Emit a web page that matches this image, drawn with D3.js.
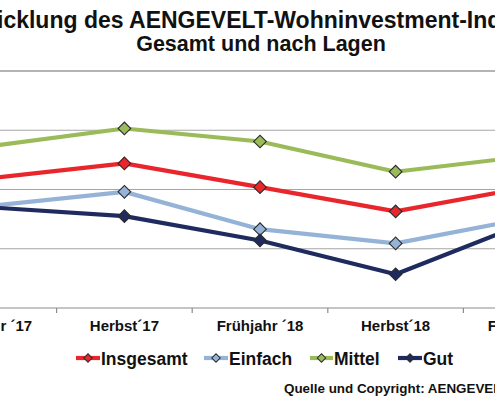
<!DOCTYPE html>
<html><head><meta charset="utf-8">
<script src="https://cdn.jsdelivr.net/npm/d3@7"></script>
<style>html,body{margin:0;padding:0;background:#fff;overflow:hidden}svg{display:block;font-family:Arial,"Liberation Sans",sans-serif}</style>
</head><body>
<script>
const categories = ["Frühjahr ´17", "Herbst´17", "Frühjahr ´18", "Herbst´18", "Frühjahr ´19"];
const insgesamt = [101.9, 104.4, 100.4, 96.3, 100.5];
const einfach   = [97.2, 99.6, 93.3, 90.9, 95.3];
const mittel    = [107.3, 110.3, 108.1, 103.0, 105.7];
const gut       = [97.0, 95.5, 91.4, 85.7, 94.7];
const seriesNames = ["Insgesamt", "Einfach", "Mittel", "Gut"];
const seriesColors = ["#e8262c", "#95b3d7", "#9bbb59", "#1f2b5e"];
const yTicks = [80, 90, 100, 110, 120];
const titleLines = ["Entwicklung des AENGEVELT-Wohninvestment-Index", "Gesamt und nach Lagen"];
const sourceText = "Quelle und Copyright: AENGEVELT-RESEARCH";

const W = 495, H = 400;
const svg = d3.select("body").append("svg").attr("width", W).attr("height", H);

const x = d3.scaleBand().domain(categories).range([-79, 599]);
const y = d3.scaleLinear().domain([80, 120]).range([308, 71]);

// gridlines
svg.append("g").selectAll("line").data(yTicks).join("line")
  .attr("x1", -79).attr("x2", 599)
  .attr("y1", d => y(d)).attr("y2", d => y(d))
  .attr("stroke", d => d === 120 ? "#6b6b6b" : (d === 80 ? "#8c8c8c" : "#a6a6a6"))
  .attr("stroke-width", 1.2);

// x axis
const xAxis = svg.append("g").attr("transform", "translate(0,308)")
  .call(d3.axisBottom(x).tickSize(0).tickPadding(12));
xAxis.select(".domain").remove();
xAxis.selectAll("text").attr("font-size", "15px").attr("font-weight", "bold").attr("fill", "#111")
  .attr("font-family", "Arial, 'Liberation Sans', sans-serif");
svg.append("g").selectAll("line").data(categories.slice(1)).join("line")
  .attr("x1", d => x(d)).attr("x2", d => x(d)).attr("y1", 308).attr("y2", 313)
  .attr("stroke", "#8c8c8c").attr("stroke-width", 1.2);

const data = [insgesamt, einfach, mittel, gut];
const cx = d => x(d) + x.bandwidth() / 2;
const line = d3.line().x((v, i) => cx(categories[i])).y(v => y(v));

data.forEach((vals, si) => {
  const g = svg.append("g");
  g.append("path").datum(vals).attr("d", line).attr("fill", "none")
    .attr("stroke", seriesColors[si]).attr("stroke-width", 4.2).attr("stroke-linejoin", "round");
  g.selectAll("path.m").data(vals).join("path").attr("class", "m")
    .attr("d", d3.symbol().type(d3.symbolSquare).size(80))
    .attr("transform", (v, i) => `translate(${cx(categories[i])},${y(v)}) rotate(45)`)
    .attr("fill", seriesColors[si]).attr("stroke", "#2b2b2b").attr("stroke-width", 1.1);
});

// title line 1 (clipped on both sides as in the reference)
const t1 = svg.append("text").attr("y", 28).attr("font-size", "23px").attr("font-weight", "bold")
  .attr("fill", "#111").text(titleLines[0]);
const offs = t1.node().getSubStringLength(0, 4);
t1.attr("x", -offs - 3);
// title line 2
svg.append("text").attr("x", 261).attr("y", 51)
  .attr("text-anchor", "middle").attr("font-size", "21.5px").attr("font-weight", "bold")
  .attr("fill", "#111").text(titleLines[1]);

// legend
const legendX = [76, 204, 310, 398];
const legendW = [24, 24, 23, 24];
const lg = svg.append("g");
seriesNames.forEach((n, i) => {
  const lx = legendX[i], ly = 358;
  lg.append("line").attr("x1", lx).attr("x2", lx + legendW[i]).attr("y1", ly).attr("y2", ly)
    .attr("stroke", seriesColors[i]).attr("stroke-width", 4.2);
  lg.append("path").attr("d", d3.symbol().type(d3.symbolSquare).size(36))
    .attr("transform", `translate(${lx + legendW[i] / 2},${ly}) rotate(45)`)
    .attr("fill", seriesColors[i]).attr("stroke", "#2b2b2b").attr("stroke-width", 1);
  lg.append("text").attr("x", lx + legendW[i] + 1).attr("y", ly + 6.5)
    .attr("font-size", "17.5px").attr("font-weight", "bold").attr("fill", "#111").text(n);
});

// source
svg.append("text").attr("x", 284).attr("y", 393).attr("font-size", "13.4px").attr("font-weight", "bold")
  .attr("fill", "#111").text(sourceText);
</script>
</body></html>
